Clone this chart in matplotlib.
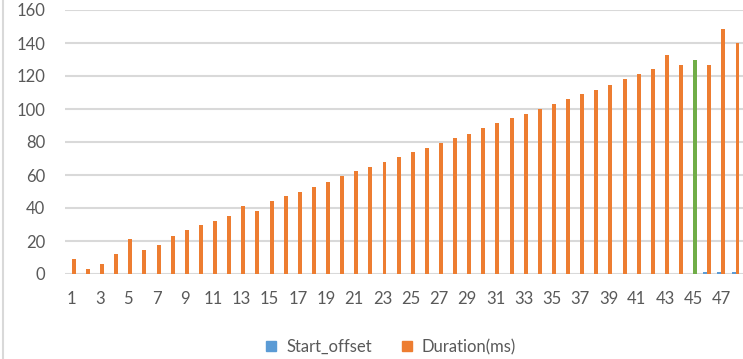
import numpy as np
import matplotlib
matplotlib.use('Agg')
import matplotlib.pyplot as plt
from matplotlib.lines import Line2D

plt.rcParams['font.family'] = ['Lato', 'DejaVu Sans']

# Data
categories = list(range(1, 49))
start_offset = [0] * 45 + [1, 1, 1]
duration = [9, 3, 6, 12, 21, 14.5, 17.6, 23.2, 26.5, 29.5,
            32.1, 35, 41.2, 38.2, 44.2, 47.3, 49.7, 52.9, 55.9, 59.2,
            62.2, 64.6, 67.7, 70.9, 73.9, 76.4, 79.4, 82.6, 85, 88.3,
            91.3, 94.3, 97, 100, 103, 106, 109, 111.7, 114.7, 118,
            121, 124, 132.7, 126.5, 129.5, 126.5, 148.3, 140.2]
highlight = 45  # category drawn in green
tick_labels = [str(c) if c % 2 == 1 else '' for c in categories]

blue = '#5B9BD5'
orange = '#ED7D31'
green = '#70AD47'
text_col = '#595959'
grid_col = '#D9D9D9'

fig = plt.figure(figsize=(7.43, 3.59), dpi=100)
ax = fig.add_axes([64.8 / 743, 1 - 274 / 359, (742.6 - 64.8) / 743, 264 / 359])

x = np.arange(len(categories))
w = 0.28
ax.bar(x - w / 2, start_offset, w, color=blue, label='Start_offset', zorder=3)
dur_colors = [green if c == highlight else orange for c in categories]
ax.bar(x + w / 2, duration, w, color=dur_colors, label='Duration(ms)', zorder=3)

ax.set_xlim(-0.5, len(categories) - 0.5)
ax.set_ylim(0, 160)
ax.set_yticks(range(0, 161, 20))
ax.set_xticks(x)
ax.set_xticklabels(tick_labels)
ax.yaxis.grid(True, color=grid_col, linewidth=1.5, zorder=0)
for s in ax.spines.values():
    s.set_visible(False)
ax.tick_params(axis='both', length=0, colors=text_col, labelsize=12)
ax.tick_params(axis='y', pad=14)
ax.tick_params(axis='x', pad=12)

handles = [plt.Rectangle((0, 0), 1, 1, color=blue),
           plt.Rectangle((0, 0), 1, 1, color=orange)]
fig.legend(handles, ['Start_offset', 'Duration(ms)'], loc='center',
           bbox_to_anchor=(391 / 743, 1 - 347 / 359), ncol=2, frameon=False,
           fontsize=12, handlelength=0.6, handleheight=0.6, columnspacing=1.8,
           handletextpad=0.6, labelcolor=text_col)

# light chart border at the left edge
fig.add_artist(Line2D([3 / 743, 3 / 743], [0, 1], color=grid_col, linewidth=1.5))

fig.savefig('out.png', dpi=100)
